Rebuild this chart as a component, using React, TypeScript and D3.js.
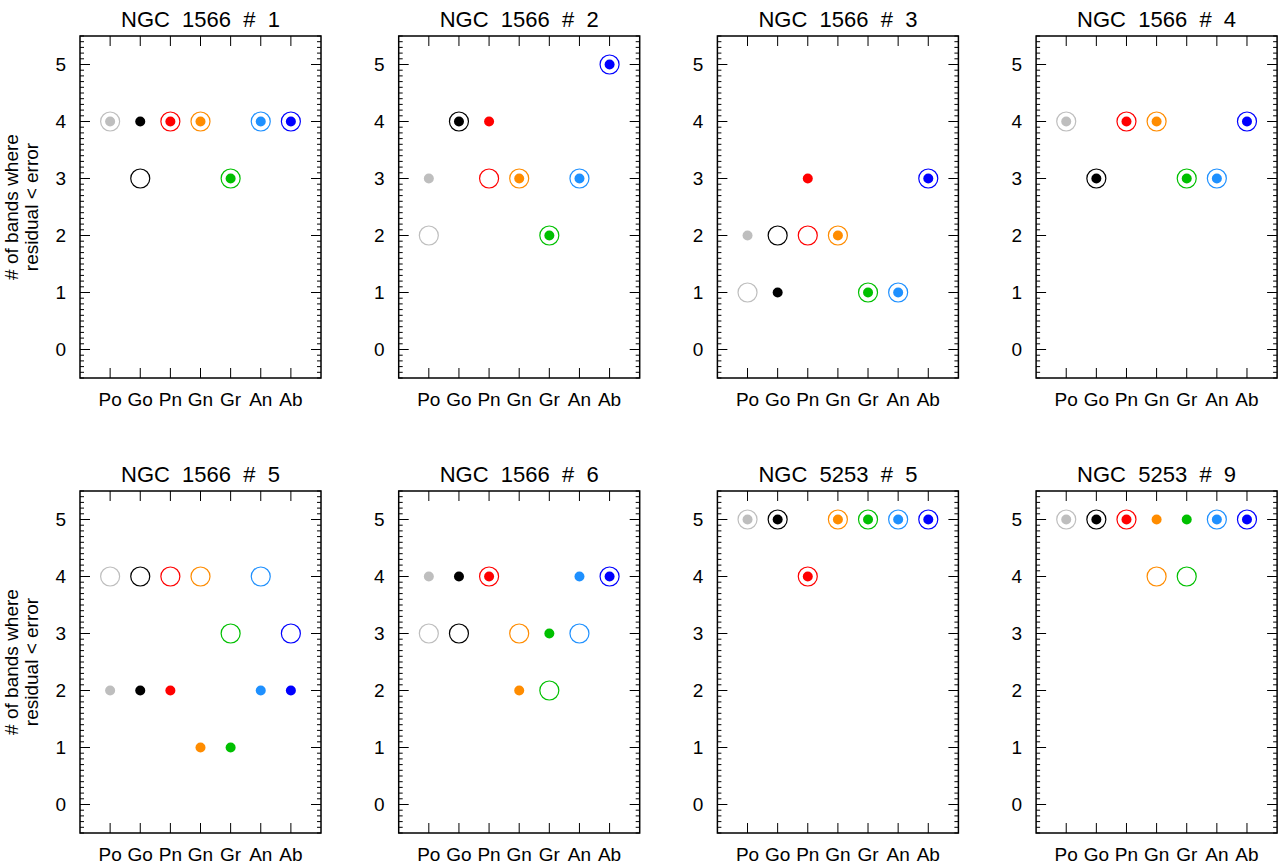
import React from 'react';
import * as d3 from 'd3';

const categories = ['Po', 'Go', 'Pn', 'Gn', 'Gr', 'An', 'Ab'];
const colors = ['#bebebe', '#000000', '#ff0000', '#ff8c00', '#00c000', '#1e90ff', '#0000ff'];
const titles = ['NGC 1566 # 1', 'NGC 1566 # 2', 'NGC 1566 # 3', 'NGC 1566 # 4',
  'NGC 1566 # 5', 'NGC 1566 # 6', 'NGC 5253 # 5', 'NGC 5253 # 9'];
const openValues = [
  [4, 3, 4, 4, 3, 4, 4],
  [2, 4, 3, 3, 2, 3, 5],
  [1, 2, 2, 2, 1, 1, 3],
  [4, 3, 4, 4, 3, 3, 4],
  [4, 4, 4, 4, 3, 4, 3],
  [3, 3, 4, 3, 2, 3, 4],
  [5, 5, 4, 5, 5, 5, 5],
  [5, 5, 5, 4, 4, 5, 5],
];
const filledValues = [
  [4, 4, 4, 4, 3, 4, 4],
  [3, 4, 4, 3, 2, 3, 5],
  [2, 1, 3, 2, 1, 1, 3],
  [4, 3, 4, 4, 3, 3, 4],
  [2, 2, 2, 1, 1, 2, 2],
  [4, 4, 4, 2, 3, 4, 4],
  [5, 5, 4, 5, 5, 5, 5],
  [5, 5, 5, 5, 5, 5, 5],
];
const yTicks = [0, 1, 2, 3, 4, 5];

const W = 241, H = 342;
const font = 'Liberation Sans, Arial, sans-serif';

const Panel: React.FC<{ i: number }> = ({ i }) => {
  const x = d3.scaleLinear().domain([0, 8]).range([0, W]);
  const y = d3.scaleLinear().domain([-0.5, 5.5]).range([H, 0]);
  const minor = d3.range(-0.5, 5.51, 0.1).map(v => Math.round(v * 10) / 10);
  const left = 80 + (i % 4) * 318.7;
  const top = 36 + Math.floor(i / 4) * 455;
  return (
    <g transform={`translate(${left},${top})`}>
      <text x={W / 2} y={-9} textAnchor="middle" fontSize={22} fontFamily={font}
        style={{ whiteSpace: 'pre' }}>{titles[i].replace(/ /g, '  ')}</text>
      <rect width={W} height={H} fill="none" stroke="#000" strokeWidth={1.5} />
      {minor.map(v => (
        <g key={v}>
          <line x1={0} x2={4} y1={y(v)} y2={y(v)} stroke="#000" />
          <line x1={W} x2={W - 4} y1={y(v)} y2={y(v)} stroke="#000" />
        </g>
      ))}
      {yTicks.map(v => (
        <g key={v}>
          <line x1={0} x2={10} y1={y(v)} y2={y(v)} stroke="#000" />
          <line x1={W} x2={W - 10} y1={y(v)} y2={y(v)} stroke="#000" />
          <text x={-14} y={y(v)} dy="0.35em" textAnchor="end" fontSize={19} fontFamily={font}>{v}</text>
        </g>
      ))}
      {categories.map((c, k) => (
        <g key={c}>
          <line x1={x(k + 1)} x2={x(k + 1)} y1={H} y2={H - 10} stroke="#000" />
          <line x1={x(k + 1)} x2={x(k + 1)} y1={0} y2={10} stroke="#000" />
          <text x={x(k + 1)} y={H + 28} textAnchor="middle" fontSize={19} fontFamily={font}>{c}</text>
        </g>
      ))}
      {openValues[i].map((v, k) => (
        <circle key={'o' + k} cx={x(k + 1)} cy={y(v)} r={9.5} fill="none" stroke={colors[k]} strokeWidth={1.2} />
      ))}
      {filledValues[i].map((v, k) => (
        <circle key={'f' + k} cx={x(k + 1)} cy={y(v)} r={5} fill={colors[k]} />
      ))}
      {i % 4 === 0 && (
        <text transform={`translate(-52,${y(2.5)}) rotate(-90)`} textAnchor="middle" fontSize={19} fontFamily={font}>
          <tspan x={0} dy={-10}># of bands where</tspan>
          <tspan x={0} dy={20}>residual &lt; error</tspan>
        </text>
      )}
    </g>
  );
};

export default function App() {
  return (
    <svg width={1278} height={866} style={{ position: 'absolute', left: 0, top: 0, background: '#fff' }}>
      {titles.map((_, i) => <Panel key={i} i={i} />)}
    </svg>
  );
}
